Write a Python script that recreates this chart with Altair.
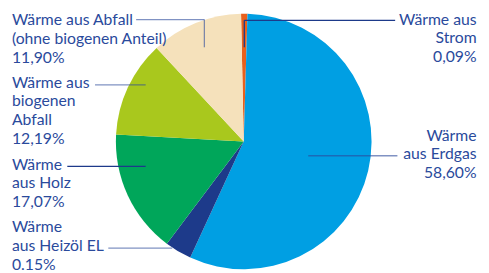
import altair as alt
import pandas as pd
import math

# ---- data ----
categories = [
    "Wärme aus Strom",
    "Wärme aus Erdgas",
    "Wärme aus Heizöl EL",
    "Wärme aus Holz",
    "Wärme aus biogenen Abfall",
    "Wärme aus Abfall (ohne biogenen Anteil)",
]
shares = [0.8, 56.4, 3.4, 15.6, 12.2, 11.6]
label_texts = [
    "Wärme aus\nStrom\n0,09%",
    "Wärme\naus Erdgas\n58,60%",
    "Wärme\naus Heizöl EL\n0.15%",
    "Wärme\naus Holz\n17,07%",
    "Wärme aus\nbiogenen\nAbfall\n12,19%",
    "Wärme aus Abfall\n(ohne biogenen Anteil)\n11,90%",
]
colors = ["#E8601C", "#009FE3", "#1D3A8A", "#00A65A", "#A9C81D", "#F5E1BB"]

# ---- layout (chart coordinates) ----
W, H = 481, 265
CX, CY, R = 239.7, 133.5, 130
START = math.radians(-1.2)
TEXT_COLOR = "#2A4A9C"

label_x = [476.5, 476.5, 4, 4, 4, 4]
label_y = [14.7, 132.7, 226, 162, 78.7, 15.3]
label_align = ["right", "right", "left", "left", "left", "left"]

# leader line segments: (x, y, x2, y2, dark?)
segments = [
    (240.3, 37.7, 240.3, 10.3, 1), (240.3, 10.3, 393.7, 10.3, 1),
    (130.3, 9.5, 199.7, 9.5, 0), (199.7, 9.5, 199.7, 37.7, 0),
    (305.3, 148, 396, 148, 0),
    (88.5, 76, 140, 76, 0),
    (60.3, 158.7, 140, 158.7, 1),
    (102, 242, 167, 242, 0),
]

pie_df = pd.DataFrame({
    "cat": categories,
    "share": shares,
    "order": list(range(len(categories))),
})

pie = alt.Chart(pie_df).mark_arc(outerRadius=R, stroke=None).encode(
    theta=alt.Theta("share:Q", stack=True,
                    scale=alt.Scale(range=[START, START + 2 * math.pi])),
    color=alt.Color("cat:N", scale=alt.Scale(domain=categories, range=colors), legend=None),
    order=alt.Order("order:Q"),
    x=alt.value(CX),
    y=alt.value(CY),
)

seg_df = pd.DataFrame(segments, columns=["x", "y", "x2", "y2", "dark"])
lines_dark = alt.Chart(seg_df[seg_df.dark == 1]).mark_rule(
    color="#1D3A8A", strokeWidth=1.3
).encode(
    x=alt.X("x:Q", scale=None), y=alt.Y("y:Q", scale=None),
    x2="x2:Q", y2="y2:Q",
)
lines_light = alt.Chart(seg_df[seg_df.dark == 0]).mark_rule(
    color="#2B4A9B", strokeWidth=1.3, opacity=0.6
).encode(
    x=alt.X("x:Q", scale=None), y=alt.Y("y:Q", scale=None),
    x2="x2:Q", y2="y2:Q",
)

lab_df = pd.DataFrame({
    "text": label_texts, "x": label_x, "y": label_y, "align": label_align,
})
texts = []
for al in ["left", "right"]:
    texts.append(
        alt.Chart(lab_df[lab_df["align"] == al]).mark_text(
            align=al, baseline="alphabetic", lineBreak="\n", lineHeight=19,
            font="Lato", fontSize=16, color=TEXT_COLOR,
        ).encode(
            x=alt.X("x:Q", scale=None), y=alt.Y("y:Q", scale=None), text="text:N",
        )
    )

chart = alt.layer(pie, lines_light, lines_dark, *texts).properties(
    width=W, height=H, padding=0, autosize=alt.AutoSizeParams(type="none"),
).configure_view(stroke=None)

chart.save("out.html", embed_options={"renderer": "svg", "actions": False})
